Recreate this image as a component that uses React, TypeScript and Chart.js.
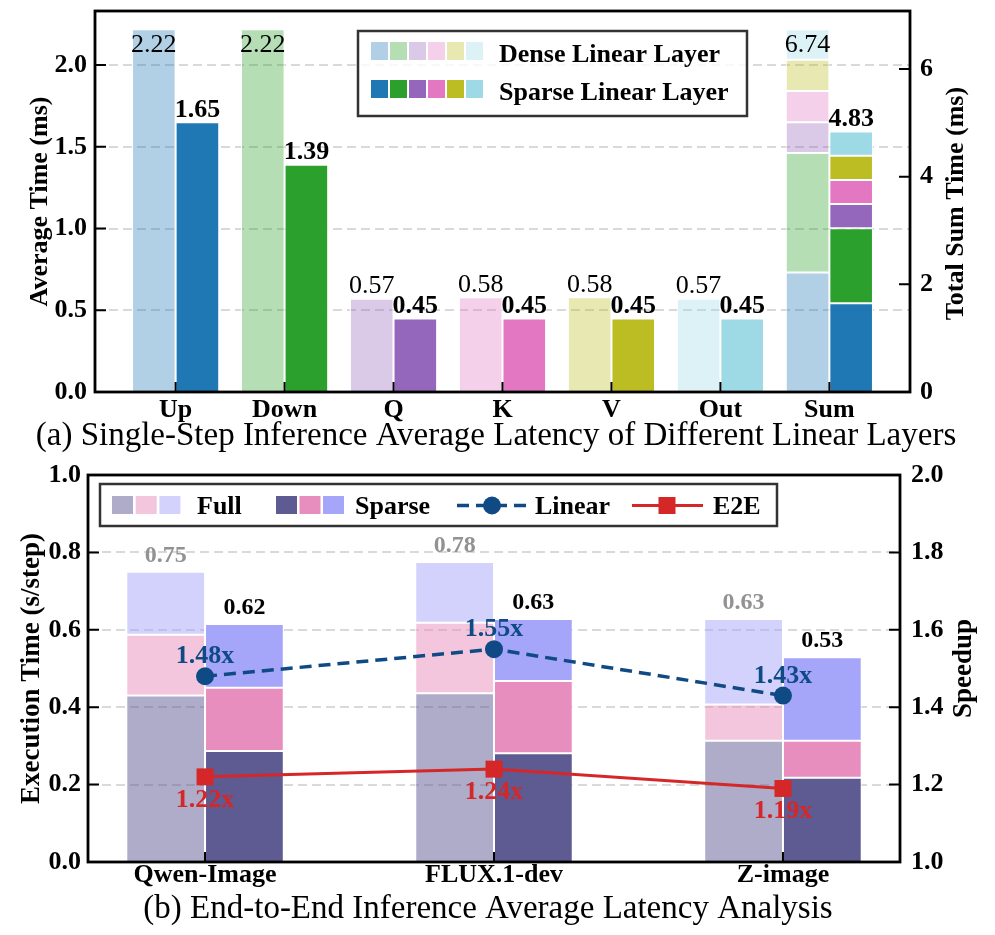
import React, { useEffect, useRef } from 'react';
import { Chart, registerables } from 'chart.js';

Chart.register(...registerables);

const FONT = '"Liberation Serif", "Times New Roman", serif';

// ---------- (a) data ----------
const layerNames = ['Up', 'Down', 'Q', 'K', 'V', 'Out', 'Sum'];
const denseTimes = [2.22, 2.22, 0.57, 0.58, 0.58, 0.57];
const sparseTimes = [1.65, 1.39, 0.45, 0.45, 0.45, 0.45];
const denseTotalLabel = '6.74';
const sparseTotalLabel = '4.83';
const layerColors = ['#1f77b4', '#2ca02c', '#9467bd', '#e377c2', '#bcbd22', '#9edae5'];
const avgTicks = [0, 0.5, 1.0, 1.5, 2.0];
const sumTicks = [0, 2, 4, 6];
const avgMax = 2.331;
const sumMax = 7.077;

// ---------- (b) data ----------
const models = ['Qwen-Image', 'FLUX.1-dev', 'Z-image'];
const fullSegA = [0.43, 0.436, 0.313];
const fullSegB = [0.157, 0.182, 0.094];
const fullSegC = [0.163, 0.157, 0.221];
const sparseSegA = [0.287, 0.281, 0.218];
const sparseSegB = [0.163, 0.187, 0.095];
const sparseSegC = [0.165, 0.16, 0.216];
const fullTotals = ['0.75', '0.78', '0.63'];
const sparseTotals = ['0.62', '0.63', '0.53'];
const linearSpeedup = [1.48, 1.55, 1.43];
const e2eSpeedup = [1.22, 1.24, 1.19];
const segColors = ['#5e5a92', '#e78ebe', '#a5a5fa'];
const execTicks = [0, 0.2, 0.4, 0.6, 0.8, 1.0];
const speedTicks = [1.0, 1.2, 1.4, 1.6, 1.8, 2.0];

const W = 995;
const TOP_H = 455;
const BOT_H = 480;
const DENSE_ALPHA = 0.35;
const FULL_ALPHA = 0.5;
const LINEAR_COLOR = '#0f4a84';
const E2E_COLOR = '#d62728';
const GRID_COLOR = '#d9d9d9';

const rgba = (hex: string, a: number) => {
  const n = parseInt(hex.slice(1), 16);
  return `rgba(${(n >> 16) & 255},${(n >> 8) & 255},${n & 255},${a})`;
};

const fixSize = (size: number) => (scale: any) => {
  if (scale.isHorizontal()) scale.height = size;
  else scale.width = size;
  scale.paddingTop = 0;
  scale.paddingBottom = 0;
  scale.paddingLeft = 0;
  scale.paddingRight = 0;
};

const tickFont = { family: FONT, size: 26, weight: 'bold' as const, lineHeight: 1 };

const setTicks = (vals: number[]) => (scale: any) => {
  scale.ticks = vals.map((v) => ({ value: v }));
};

function text(ctx: CanvasRenderingContext2D, s: string, x: number, y: number, font: string, color: string, align: CanvasTextAlign = 'center', baseline: CanvasTextBaseline = 'alphabetic') {
  ctx.save();
  ctx.font = font;
  ctx.fillStyle = color;
  ctx.textAlign = align;
  ctx.textBaseline = baseline;
  ctx.fillText(s, x, y);
  ctx.restore();
}

function vtext(ctx: CanvasRenderingContext2D, s: string, cx: number, cy: number, font: string) {
  ctx.save();
  ctx.translate(cx, cy);
  ctx.rotate(-Math.PI / 2);
  ctx.font = font;
  ctx.fillStyle = '#000';
  ctx.textAlign = 'center';
  ctx.textBaseline = 'middle';
  ctx.fillText(s, 0, 0);
  ctx.restore();
}

function drawGrid(chart: any, vals: number[]) {
  const { ctx, chartArea, scales } = chart;
  ctx.save();
  ctx.strokeStyle = GRID_COLOR;
  ctx.lineWidth = 2;
  ctx.setLineDash([9, 5]);
  vals.forEach((v) => {
    const y = Math.round(scales.y.getPixelForValue(v));
    ctx.beginPath();
    ctx.moveTo(chartArea.left, y);
    ctx.lineTo(chartArea.right, y);
    ctx.stroke();
  });
  ctx.restore();
}

function drawFrame(chart: any, leftVals: number[], rightVals: number[], xVals: number[]) {
  const { ctx, chartArea: a, scales } = chart;
  ctx.save();
  ctx.strokeStyle = '#000';
  ctx.lineWidth = 2;
  ctx.setLineDash([]);
  ctx.beginPath();
  leftVals.forEach((v) => {
    const y = scales.y.getPixelForValue(v);
    ctx.moveTo(a.left, y);
    ctx.lineTo(a.left + 11, y);
  });
  rightVals.forEach((v) => {
    const y = scales.y2.getPixelForValue(v);
    ctx.moveTo(a.right, y);
    ctx.lineTo(a.right - 11, y);
  });
  xVals.forEach((v) => {
    const x = scales.x.getPixelForValue(v);
    ctx.moveTo(x, a.bottom);
    ctx.lineTo(x, a.bottom - 10);
  });
  ctx.stroke();
  ctx.lineWidth = 2.8;
  ctx.strokeRect(a.left, a.top, a.right - a.left, a.bottom - a.top);
  ctx.restore();
}

function legendBox(ctx: CanvasRenderingContext2D, x0: number, y0: number, x1: number, y1: number) {
  ctx.save();
  ctx.fillStyle = 'rgba(255,255,255,0.8)';
  ctx.fillRect(x0, y0, x1 - x0, y1 - y0);
  ctx.strokeStyle = '#333';
  ctx.lineWidth = 2.5;
  ctx.strokeRect(x0, y0, x1 - x0, y1 - y0);
  ctx.restore();
}

const xAxisBase = (names: string[], min: number, max: number, height: number, padding: number) => ({
  type: 'linear',
  min,
  max,
  offset: false,
  bounds: 'data',
  afterBuildTicks: setTicks(names.map((_, i) => i)),
  afterFit: fixSize(height),
  grid: { display: false, drawTicks: false, offset: false },
  border: { display: false },
  ticks: {
    autoSkip: false,
    maxRotation: 0,
    padding,
    color: '#000',
    font: tickFont,
    callback: (v: number) => names[Math.round(v)] ?? '',
  },
});

// ---------------- top chart ----------------
const topPlugin = {
  id: 'topDecor',
  beforeDatasetsDraw(chart: any) {
    drawGrid(chart, avgTicks.filter((v) => v > 0));
  },
  afterDatasetsDraw(chart: any) {
    drawFrame(chart, avgTicks, sumTicks, layerNames.map((_, i) => i));
  },
  afterDraw(chart: any) {
    const { ctx, chartArea: a } = chart;
    const clampY = (y: number) => Math.max(y - 5.5, a.top + 41);
    const normal = `26px ${FONT}`;
    const bold = `bold 26px ${FONT}`;
    chart.getDatasetMeta(0).data.forEach((el: any, i: number) => {
      text(ctx, denseTimes[i].toFixed(2), el.x, clampY(el.y), normal, '#000');
    });
    chart.getDatasetMeta(1).data.forEach((el: any, i: number) => {
      text(ctx, sparseTimes[i].toFixed(2), el.x, clampY(el.y), bold, '#000');
    });
    const dTop = chart.getDatasetMeta(2 + denseTimes.length - 1).data[0];
    text(ctx, denseTotalLabel, dTop.x, clampY(dTop.y), normal, '#000');
    const sTop = chart.getDatasetMeta(2 + denseTimes.length + sparseTimes.length - 1).data[0];
    text(ctx, sparseTotalLabel, sTop.x, clampY(sTop.y), bold, '#000');

    vtext(ctx, 'Average Time (ms)', 40.5, (a.top + a.bottom) / 2, `bold 26px ${FONT}`);
    vtext(ctx, 'Total Sum Time (ms)', 956.5, (a.top + a.bottom) / 2 + 2, `bold 26px ${FONT}`);

    text(ctx, '(a) Single-Step Inference Average Latency of Different Linear Layers', 496, 445, `33px ${FONT}`, '#000');

    legendBox(ctx, 358, 31, 747, 116);
    layerColors.forEach((c, k) => {
      ctx.fillStyle = rgba(c, DENSE_ALPHA);
      ctx.fillRect(371 + k * 19, 42, 17, 18);
      ctx.fillStyle = c;
      ctx.fillRect(371 + k * 19, 80, 17, 18);
    });
    text(ctx, 'Dense Linear Layer', 499, 62, `bold 26px ${FONT}`, '#000', 'left');
    text(ctx, 'Sparse Linear Layer', 499, 99.5, `bold 26px ${FONT}`, '#000', 'left');
  },
};

function topConfig(): any {
  const sumIdx = layerNames.length - 1;
  const datasets: any[] = [
    {
      label: 'Dense',
      stack: 'dense',
      yAxisID: 'y',
      data: denseTimes.map((v, i) => ({ x: i, y: v })),
      backgroundColor: layerColors.map((c) => rgba(c, DENSE_ALPHA)),
    },
    {
      label: 'Sparse',
      stack: 'sparse',
      yAxisID: 'y',
      data: sparseTimes.map((v, i) => ({ x: i, y: v })),
      backgroundColor: layerColors,
    },
    ...denseTimes.map((v, k) => ({
      label: 'Dense ' + layerNames[k],
      stack: 'dense',
      yAxisID: 'y2',
      data: [{ x: sumIdx, y: v }],
      backgroundColor: rgba(layerColors[k], DENSE_ALPHA),
    })),
    ...sparseTimes.map((v, k) => ({
      label: 'Sparse ' + layerNames[k],
      stack: 'sparse',
      yAxisID: 'y2',
      data: [{ x: sumIdx, y: v }],
      backgroundColor: layerColors[k],
    })),
  ];
  datasets.forEach((d) => {
    d.type = 'bar';
    d.borderColor = '#ffffff';
    d.borderWidth = 1;
    d.borderSkipped = false;
    d.categoryPercentage = 0.8;
    d.barPercentage = 1.0;
  });
  return {
    type: 'bar',
    data: { datasets },
    plugins: [topPlugin],
    options: {
      responsive: false,
      maintainAspectRatio: false,
      animation: false,
      devicePixelRatio: 1,
      layout: { padding: { top: 11, left: 0, right: 0, bottom: 0 } },
      plugins: { legend: { display: false }, tooltip: { enabled: false }, title: { display: false } },
      scales: {
        x: xAxisBase(layerNames, -0.74, 6.74, TOP_H - 392, 5),
        y: {
          type: 'linear',
          position: 'left',
          min: 0,
          max: avgMax,
          afterBuildTicks: setTicks(avgTicks),
          afterFit: fixSize(95),
          grid: { display: false, drawTicks: false },
          border: { display: false },
          ticks: { padding: 8, color: '#000', font: tickFont, callback: (v: number) => v.toFixed(1) },
        },
        y2: {
          type: 'linear',
          position: 'right',
          min: 0,
          max: sumMax,
          afterBuildTicks: setTicks(sumTicks),
          afterFit: fixSize(W - 910),
          grid: { display: false, drawTicks: false },
          border: { display: false },
          ticks: { padding: 10, color: '#000', font: tickFont, callback: (v: number) => String(v) },
        },
      },
    },
  };
}

// ---------------- bottom chart ----------------
const botPlugin = {
  id: 'botDecor',
  beforeDatasetsDraw(chart: any) {
    drawGrid(chart, execTicks.filter((v) => v > 0 && v < 1));
  },
  afterDatasetsDraw(chart: any) {
    drawFrame(chart, execTicks, speedTicks, models.map((_, i) => i));
  },
  afterDraw(chart: any) {
    const { ctx, chartArea: a } = chart;
    const lblFont = `bold 24px ${FONT}`;
    const spFont = `bold 26px ${FONT}`;
    chart.getDatasetMeta(4).data.forEach((el: any, i: number) => {
      text(ctx, fullTotals[i], el.x, el.y - 10, lblFont, '#929292');
    });
    chart.getDatasetMeta(7).data.forEach((el: any, i: number) => {
      text(ctx, sparseTotals[i], el.x, el.y - 10, lblFont, '#000');
    });
    chart.getDatasetMeta(0).data.forEach((el: any, i: number) => {
      text(ctx, linearSpeedup[i].toFixed(2) + 'x', el.x, el.y - 13, spFont, LINEAR_COLOR);
    });
    chart.getDatasetMeta(1).data.forEach((el: any, i: number) => {
      text(ctx, e2eSpeedup[i].toFixed(2) + 'x', el.x, el.y + 30, spFont, E2E_COLOR);
    });

    vtext(ctx, 'Execution Time (s/step)', 32.5, (a.top + a.bottom) / 2, `bold 27px ${FONT}`);
    vtext(ctx, 'Speedup', 964, (a.top + a.bottom) / 2, `bold 27px ${FONT}`);

    text(ctx, '(b) End-to-End Inference Average Latency Analysis', 488, 463, `33px ${FONT}`, '#000');

    legendBox(ctx, 100, 29, 777, 71);
    segColors.forEach((c, k) => {
      ctx.fillStyle = rgba(c, FULL_ALPHA);
      ctx.fillRect(112 + k * 23.7, 41, 21, 18);
      ctx.fillStyle = c;
      ctx.fillRect(276 + k * 23.5, 41, 21, 18);
    });
    const lf = `bold 26px ${FONT}`;
    text(ctx, 'Full', 197, 58.5, lf, '#000', 'left');
    text(ctx, 'Sparse', 355, 58.5, lf, '#000', 'left');
    text(ctx, 'Linear', 535, 58.5, lf, '#000', 'left');
    text(ctx, 'E2E', 713, 58.5, lf, '#000', 'left');
    ctx.save();
    ctx.strokeStyle = LINEAR_COLOR;
    ctx.lineWidth = 3.5;
    ctx.setLineDash([12, 7]);
    ctx.beginPath();
    ctx.moveTo(457, 50.5);
    ctx.lineTo(528, 50.5);
    ctx.stroke();
    ctx.setLineDash([]);
    ctx.fillStyle = LINEAR_COLOR;
    ctx.beginPath();
    ctx.arc(492, 50.5, 9, 0, Math.PI * 2);
    ctx.fill();
    ctx.strokeStyle = E2E_COLOR;
    ctx.lineWidth = 3;
    ctx.beginPath();
    ctx.moveTo(632, 50.5);
    ctx.lineTo(703, 50.5);
    ctx.stroke();
    ctx.fillStyle = E2E_COLOR;
    ctx.fillRect(658.5, 42, 17, 17);
    ctx.restore();
  },
};

function botConfig(): any {
  const bars: any[] = [
    ...[fullSegA, fullSegB, fullSegC].map((seg, k) => ({
      label: 'Full ' + k,
      stack: 'full',
      data: seg.map((v, i) => ({ x: i, y: v })),
      backgroundColor: rgba(segColors[k], FULL_ALPHA),
    })),
    ...[sparseSegA, sparseSegB, sparseSegC].map((seg, k) => ({
      label: 'Sparse ' + k,
      stack: 'sparse',
      data: seg.map((v, i) => ({ x: i, y: v })),
      backgroundColor: segColors[k],
    })),
  ];
  bars.forEach((d) => {
    d.type = 'bar';
    d.yAxisID = 'y';
    d.borderColor = '#ffffff';
    d.borderWidth = 1;
    d.borderSkipped = false;
    d.categoryPercentage = 0.545;
    d.barPercentage = 1.0;
  });
  const lines: any[] = [
    {
      type: 'line',
      label: 'Linear',
      yAxisID: 'y2',
      order: -2,
      data: linearSpeedup.map((v, i) => ({ x: i, y: v })),
      borderColor: LINEAR_COLOR,
      backgroundColor: LINEAR_COLOR,
      borderWidth: 3.5,
      borderDash: [12, 7],
      pointRadius: 9,
      pointBackgroundColor: LINEAR_COLOR,
      pointBorderWidth: 0,
      tension: 0,
    },
    {
      type: 'line',
      label: 'E2E',
      yAxisID: 'y2',
      order: -1,
      data: e2eSpeedup.map((v, i) => ({ x: i, y: v })),
      borderColor: E2E_COLOR,
      backgroundColor: E2E_COLOR,
      borderWidth: 3,
      pointStyle: 'rect',
      pointRadius: 12,
      pointBackgroundColor: E2E_COLOR,
      pointBorderWidth: 0,
      tension: 0,
    },
  ];
  return {
    type: 'bar',
    data: { datasets: [...lines, ...bars] },
    plugins: [botPlugin],
    options: {
      responsive: false,
      maintainAspectRatio: false,
      animation: false,
      devicePixelRatio: 1,
      layout: { padding: { top: 20, left: 0, right: 0, bottom: 0 } },
      plugins: { legend: { display: false }, tooltip: { enabled: false }, title: { display: false } },
      scales: {
        x: xAxisBase(models, -0.405, 2.405, BOT_H - 407, 0),
        y: {
          type: 'linear',
          position: 'left',
          min: 0,
          max: 1,
          afterBuildTicks: setTicks(execTicks),
          afterFit: fixSize(88),
          grid: { display: false, drawTicks: false },
          border: { display: false },
          ticks: { padding: 7, color: '#000', font: tickFont, callback: (v: number) => v.toFixed(1) },
        },
        y2: {
          type: 'linear',
          position: 'right',
          min: 1,
          max: 2,
          afterBuildTicks: setTicks(speedTicks),
          afterFit: fixSize(W - 900),
          grid: { display: false, drawTicks: false },
          border: { display: false },
          ticks: { padding: 11, color: '#000', font: tickFont, callback: (v: number) => v.toFixed(1) },
        },
      },
    },
  };
}

export default function App() {
  const topRef = useRef<HTMLCanvasElement>(null);
  const botRef = useRef<HTMLCanvasElement>(null);
  useEffect(() => {
    const c1 = new Chart(topRef.current as HTMLCanvasElement, topConfig());
    const c2 = new Chart(botRef.current as HTMLCanvasElement, botConfig());
    return () => {
      c1.destroy();
      c2.destroy();
    };
  }, []);
  return (
    <div style={{ position: 'absolute', left: 0, top: 0, width: W, height: TOP_H + BOT_H, background: '#fff' }}>
      <canvas ref={topRef} width={W} height={TOP_H} style={{ display: 'block', width: W, height: TOP_H }} />
      <canvas ref={botRef} width={W} height={BOT_H} style={{ display: 'block', width: W, height: BOT_H }} />
    </div>
  );
}
